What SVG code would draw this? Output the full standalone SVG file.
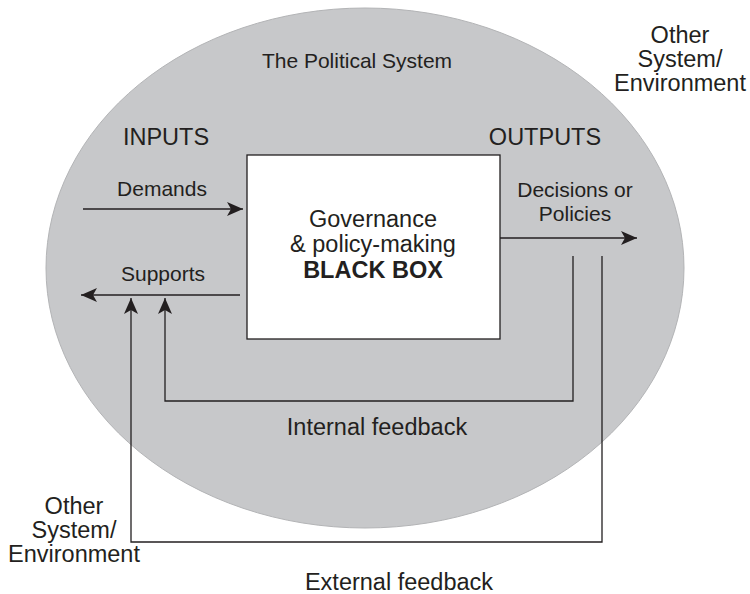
<svg xmlns="http://www.w3.org/2000/svg" width="750" height="594" viewBox="0 0 750 594">
<defs>
<style>
text{font-family:"Liberation Sans",Arial,Helvetica,sans-serif;fill:#231f20;text-anchor:middle}
.s{font-size:21px}
.l{font-size:23.5px}
.b{font-weight:bold}
.ln{fill:none;stroke:#231f20;stroke-width:1.3}
</style>
<marker id="ah" viewBox="0 0 16 14" refX="16" refY="7" markerWidth="16" markerHeight="14" markerUnits="userSpaceOnUse" orient="auto">
<path d="M0,0 L16,7 L0,14 L4,7 z" fill="#231f20"/>
</marker>
</defs>
<rect width="750" height="594" fill="#ffffff"/>
<g id="political-system">
<ellipse cx="365" cy="268" rx="319" ry="260" fill="#c7c8ca" stroke="#b3b4b6" stroke-width="1"/>
<text class="s" x="357" y="68">The Political System</text>
<text class="l" x="166" y="145">INPUTS</text>
<text class="l" x="545" y="145">OUTPUTS</text>
</g>
<g id="black-box">
<rect x="247" y="155" width="253" height="184" fill="#ffffff" stroke="#231f20" stroke-width="1.3"/>
<text class="l" x="373" y="227">Governance</text>
<text class="l" x="373" y="252">&amp; policy-making</text>
<text class="l b" x="373" y="278">BLACK BOX</text>
</g>
<g id="env-top">
<text class="l" x="680" y="43">Other</text>
<text class="l" x="680" y="67">System/</text>
<text class="l" x="680" y="91">Environment</text>
</g>
<g id="env-bottom">
<text class="l" x="74" y="514">Other</text>
<text class="l" x="74" y="538">System/</text>
<text class="l" x="74" y="562">Environment</text>
</g>
<g id="connectors">
<line class="ln" x1="83" y1="209" x2="243" y2="209" marker-end="url(#ah)"/>
<line class="ln" x1="240" y1="295" x2="81" y2="295" marker-end="url(#ah)"/>
<line class="ln" x1="500" y1="238" x2="637" y2="238" marker-end="url(#ah)"/>
<polyline class="ln" points="573,256 573,401 165,401 165,298" marker-end="url(#ah)"/>
<polyline class="ln" points="602,256 602,542 131,542 131,298" marker-end="url(#ah)"/>
</g>
<g id="labels">
<text class="s" x="162" y="196">Demands</text>
<text class="s" x="163" y="281">Supports</text>
<text class="s" x="575" y="197">Decisions or</text>
<text class="s" x="575" y="221">Policies</text>
<text class="l" x="377" y="435">Internal feedback</text>
<text class="l" x="399" y="590">External feedback</text>
</g>
</svg>
